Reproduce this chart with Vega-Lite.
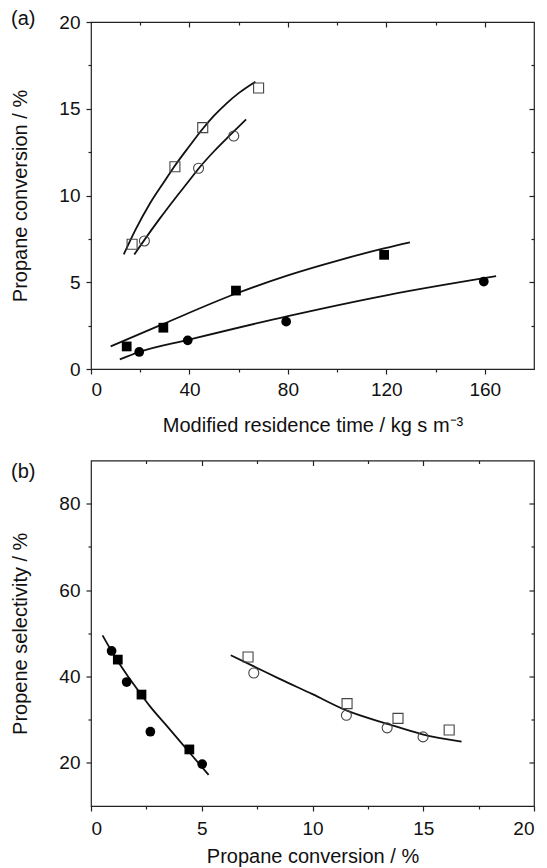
{
  "$schema": "https://vega.github.io/schema/vega-lite/v6.json",
  "background": "white",
  "padding": {"left": 10, "top": 8, "right": 0, "bottom": 0},
  "config": {
    "font": "Liberation Sans",
    "view": {"stroke": "#222", "strokeWidth": 1.2},
    "axis": {
      "grid": false, "domain": false, "tickColor": "#222", "tickWidth": 1.2,
      "labelFont": "Liberation Sans", "labelFontSize": 19, "labelColor": "#111", "labelPadding": 6,
      "titleFont": "Liberation Sans", "titleFontSize": 20, "titleFontWeight": "normal", "titleColor": "#111"
    },
    "title": {"font": "Liberation Sans", "fontSize": 20, "fontWeight": "normal", "color": "#111"}
  },
  "datasets": {
    "a_pts": [
      {"s": "open-sq", "shape": "square", "kind": "open", "x": 16.7, "y": 7.19},
      {"s": "open-sq", "shape": "square", "kind": "open", "x": 34.1, "y": 11.66},
      {"s": "open-sq", "shape": "square", "kind": "open", "x": 45.4, "y": 13.91},
      {"s": "open-sq", "shape": "square", "kind": "open", "x": 68.1, "y": 16.2},
      {"s": "open-ci", "shape": "circle", "kind": "open", "x": 21.7, "y": 7.38},
      {"s": "open-ci", "shape": "circle", "kind": "open", "x": 43.7, "y": 11.57},
      {"s": "open-ci", "shape": "circle", "kind": "open", "x": 58.0, "y": 13.43},
      {"s": "filled-sq", "shape": "square", "kind": "filled", "x": 14.5, "y": 1.3},
      {"s": "filled-sq", "shape": "square", "kind": "filled", "x": 29.4, "y": 2.38},
      {"s": "filled-sq", "shape": "square", "kind": "filled", "x": 58.9, "y": 4.52},
      {"s": "filled-sq", "shape": "square", "kind": "filled", "x": 119.1, "y": 6.58},
      {"s": "filled-ci", "shape": "circle", "kind": "filled", "x": 19.6, "y": 0.98},
      {"s": "filled-ci", "shape": "circle", "kind": "filled", "x": 39.3, "y": 1.65},
      {"s": "filled-ci", "shape": "circle", "kind": "filled", "x": 79.3, "y": 2.73},
      {"s": "filled-ci", "shape": "circle", "kind": "filled", "x": 159.6, "y": 5.04}
    ],
    "a_fit": [
      {"s": "open-sq", "kind": "open", "x": 13.3, "y": 6.6},
      {"s": "open-sq", "kind": "open", "x": 18, "y": 8.0},
      {"s": "open-sq", "kind": "open", "x": 24, "y": 9.55},
      {"s": "open-sq", "kind": "open", "x": 30, "y": 10.85},
      {"s": "open-sq", "kind": "open", "x": 34, "y": 11.7},
      {"s": "open-sq", "kind": "open", "x": 40, "y": 12.85},
      {"s": "open-sq", "kind": "open", "x": 45.4, "y": 13.85},
      {"s": "open-sq", "kind": "open", "x": 50, "y": 14.6},
      {"s": "open-sq", "kind": "open", "x": 55, "y": 15.3},
      {"s": "open-sq", "kind": "open", "x": 60, "y": 15.9},
      {"s": "open-sq", "kind": "open", "x": 66.8, "y": 16.56},
      {"s": "open-ci", "kind": "open", "x": 17.6, "y": 6.6},
      {"s": "open-ci", "kind": "open", "x": 22, "y": 7.5},
      {"s": "open-ci", "kind": "open", "x": 28, "y": 8.68},
      {"s": "open-ci", "kind": "open", "x": 34, "y": 9.8},
      {"s": "open-ci", "kind": "open", "x": 40, "y": 10.88},
      {"s": "open-ci", "kind": "open", "x": 44, "y": 11.6},
      {"s": "open-ci", "kind": "open", "x": 50, "y": 12.55},
      {"s": "open-ci", "kind": "open", "x": 57, "y": 13.55},
      {"s": "open-ci", "kind": "open", "x": 63, "y": 14.39},
      {"s": "filled-sq", "kind": "filled", "x": 8, "y": 1.3},
      {"s": "filled-sq", "kind": "filled", "x": 29.4, "y": 2.6},
      {"s": "filled-sq", "kind": "filled", "x": 59, "y": 4.35},
      {"s": "filled-sq", "kind": "filled", "x": 80, "y": 5.4},
      {"s": "filled-sq", "kind": "filled", "x": 101, "y": 6.28},
      {"s": "filled-sq", "kind": "filled", "x": 119, "y": 6.95},
      {"s": "filled-sq", "kind": "filled", "x": 129.6, "y": 7.3},
      {"s": "filled-ci", "kind": "filled", "x": 11.7, "y": 0.55},
      {"s": "filled-ci", "kind": "filled", "x": 20, "y": 1.0},
      {"s": "filled-ci", "kind": "filled", "x": 40, "y": 1.7},
      {"s": "filled-ci", "kind": "filled", "x": 80, "y": 3.05},
      {"s": "filled-ci", "kind": "filled", "x": 120, "y": 4.25},
      {"s": "filled-ci", "kind": "filled", "x": 164.6, "y": 5.35}
    ],
    "b_pts": [
      {"s": "filled-ci", "shape": "circle", "kind": "filled", "x": 0.93, "y": 45.9},
      {"s": "filled-ci", "shape": "circle", "kind": "filled", "x": 1.61, "y": 38.7},
      {"s": "filled-ci", "shape": "circle", "kind": "filled", "x": 2.68, "y": 27.2},
      {"s": "filled-ci", "shape": "circle", "kind": "filled", "x": 5.02, "y": 19.7},
      {"s": "filled-sq", "shape": "square", "kind": "filled", "x": 1.21, "y": 43.9},
      {"s": "filled-sq", "shape": "square", "kind": "filled", "x": 2.28, "y": 35.8},
      {"s": "filled-sq", "shape": "square", "kind": "filled", "x": 4.44, "y": 23.1},
      {"s": "open-sq", "shape": "square", "kind": "open", "x": 7.09, "y": 44.5},
      {"s": "open-sq", "shape": "square", "kind": "open", "x": 11.56, "y": 33.7},
      {"s": "open-sq", "shape": "square", "kind": "open", "x": 13.86, "y": 30.3},
      {"s": "open-sq", "shape": "square", "kind": "open", "x": 16.17, "y": 27.6},
      {"s": "open-ci", "shape": "circle", "kind": "open", "x": 7.35, "y": 40.8},
      {"s": "open-ci", "shape": "circle", "kind": "open", "x": 11.53, "y": 31.0},
      {"s": "open-ci", "shape": "circle", "kind": "open", "x": 13.37, "y": 28.1},
      {"s": "open-ci", "shape": "circle", "kind": "open", "x": 14.99, "y": 26.0}
    ],
    "b_fit": [
      {"s": "filled", "kind": "filled", "x": 0.52, "y": 49.5},
      {"s": "filled", "kind": "filled", "x": 1.16, "y": 43.9},
      {"s": "filled", "kind": "filled", "x": 1.7, "y": 39.8},
      {"s": "filled", "kind": "filled", "x": 2.25, "y": 35.9},
      {"s": "filled", "kind": "filled", "x": 2.63, "y": 33.3},
      {"s": "filled", "kind": "filled", "x": 3.5, "y": 28.1},
      {"s": "filled", "kind": "filled", "x": 4.36, "y": 22.9},
      {"s": "filled", "kind": "filled", "x": 5.31, "y": 17.2},
      {"s": "open", "kind": "open", "x": 6.31, "y": 44.9},
      {"s": "open", "kind": "open", "x": 7.33, "y": 42.4},
      {"s": "open", "kind": "open", "x": 8.49, "y": 39.5},
      {"s": "open", "kind": "open", "x": 10, "y": 35.9},
      {"s": "open", "kind": "open", "x": 11.5, "y": 32.2},
      {"s": "open", "kind": "open", "x": 13.46, "y": 28.9},
      {"s": "open", "kind": "open", "x": 14.96, "y": 26.6},
      {"s": "open", "kind": "open", "x": 16.73, "y": 24.9}
    ]
  },
  "spacing": 91.5,
  "bounds": "flush",
  "vconcat": [
    {
      "width": 443,
      "height": 347,
      "title": {"text": "(a)", "anchor": "start", "frame": "group", "orient": "top", "offset": 0, "dx": -80, "dy": 32, "baseline": "alphabetic"},
      "resolve": {"axis": {"x": "independent", "y": "independent"}},
      "layer": [
        {
          "data": {"name": "a_fit"},
          "transform": [{"filter": "datum.kind === 'open'"}],
          "mark": {"type": "line", "color": "#111", "strokeWidth": 1.8, "interpolate": "monotone"},
          "encoding": {
            "x": {"field": "x", "type": "quantitative", "scale": {"domain": [0, 180], "nice": false, "zero": false},
                  "axis": {"orient": "top", "values": [40, 80, 120, 160], "labels": false, "title": null, "tickSize": -5}},
            "y": {"field": "y", "type": "quantitative", "scale": {"domain": [0, 20], "nice": false, "zero": false},
                  "axis": {"orient": "right", "values": [5, 10, 15], "labels": false, "title": null, "tickSize": -5}},
            "detail": {"field": "s"}
          }
        },
        {
          "data": {"name": "a_fit"},
          "transform": [{"filter": "datum.kind === 'filled'"}],
          "mark": {"type": "line", "color": "#111", "strokeWidth": 1.8, "interpolate": "monotone"},
          "encoding": {
            "x": {"field": "x", "type": "quantitative", "scale": {"domain": [0, 180], "nice": false, "zero": false},
                  "axis": {"orient": "top", "values": [20, 60, 100, 140], "labels": false, "title": null, "tickSize": -3}},
            "y": {"field": "y", "type": "quantitative", "scale": {"domain": [0, 20], "nice": false, "zero": false},
                  "axis": {"orient": "right", "values": [2.5, 7.5, 12.5, 17.5], "labels": false, "title": null, "tickSize": -3}},
            "detail": {"field": "s"}
          }
        },
        {
          "data": {"name": "a_pts"},
          "transform": [{"filter": "datum.kind === 'open'"}],
          "mark": {"type": "point", "filled": false, "stroke": "#444", "strokeWidth": 1.1, "size": 100, "opacity": 1},
          "encoding": {
            "x": {"field": "x", "type": "quantitative", "scale": {"domain": [0, 180], "nice": false, "zero": false},
                  "axis": {"orient": "bottom", "values": [20, 60, 100, 140], "labels": false, "title": null, "tickSize": 3}},
            "y": {"field": "y", "type": "quantitative", "scale": {"domain": [0, 20], "nice": false, "zero": false},
                  "axis": {"orient": "left", "values": [2.5, 7.5, 12.5, 17.5], "labels": false, "title": null, "tickSize": 3}},
            "shape": {"field": "shape", "type": "nominal", "scale": {"domain": ["square", "circle"], "range": ["square", "circle"]}, "legend": null}
          }
        },
        {
          "data": {"name": "a_pts"},
          "transform": [{"filter": "datum.kind === 'filled'"}],
          "mark": {"type": "point", "filled": true, "fill": "#000", "size": 95, "opacity": 1},
          "encoding": {
            "x": {"field": "x", "type": "quantitative", "scale": {"domain": [0, 180], "nice": false, "zero": false},
                  "axis": {"orient": "bottom", "values": [0, 40, 80, 120, 160], "title": "Modified residence time / kg s m⁻³", "tickSize": 5, "titlePadding": 16}},
            "y": {"field": "y", "type": "quantitative", "scale": {"domain": [0, 20], "nice": false, "zero": false},
                  "axis": {"orient": "left", "values": [0, 5, 10, 15, 20], "title": "Propane conversion / %", "tickSize": 5, "titlePadding": 28}},
            "shape": {"field": "shape", "type": "nominal", "scale": {"domain": ["square", "circle"], "range": ["square", "circle"]}, "legend": null}
          }
        }
      ]
    },
    {
      "width": 443,
      "height": 345.5,
      "title": {"text": "(b)", "anchor": "start", "frame": "group", "orient": "top", "offset": 0, "dx": -80, "dy": 38, "baseline": "alphabetic"},
      "resolve": {"axis": {"x": "independent", "y": "independent"}},
      "layer": [
        {
          "data": {"name": "b_fit"},
          "transform": [{"filter": "datum.kind === 'open'"}],
          "mark": {"type": "line", "color": "#111", "strokeWidth": 1.8, "interpolate": "monotone"},
          "encoding": {
            "x": {"field": "x", "type": "quantitative", "scale": {"domain": [0, 20], "nice": false, "zero": false},
                  "axis": {"orient": "top", "values": [5, 10, 15], "labels": false, "title": null, "tickSize": -5}},
            "y": {"field": "y", "type": "quantitative", "scale": {"domain": [10, 90], "nice": false, "zero": false},
                  "axis": {"orient": "right", "values": [20, 40, 60, 80], "labels": false, "title": null, "tickSize": -5}},
            "detail": {"field": "s"}
          }
        },
        {
          "data": {"name": "b_fit"},
          "transform": [{"filter": "datum.kind === 'filled'"}],
          "mark": {"type": "line", "color": "#111", "strokeWidth": 1.8, "interpolate": "monotone"},
          "encoding": {
            "x": {"field": "x", "type": "quantitative", "scale": {"domain": [0, 20], "nice": false, "zero": false},
                  "axis": {"orient": "top", "values": [2.5, 7.5, 12.5, 17.5], "labels": false, "title": null, "tickSize": -3}},
            "y": {"field": "y", "type": "quantitative", "scale": {"domain": [10, 90], "nice": false, "zero": false},
                  "axis": {"orient": "right", "values": [30, 50, 70], "labels": false, "title": null, "tickSize": -3}},
            "detail": {"field": "s"}
          }
        },
        {
          "data": {"name": "b_pts"},
          "transform": [{"filter": "datum.kind === 'open'"}],
          "mark": {"type": "point", "filled": false, "stroke": "#444", "strokeWidth": 1.1, "size": 100, "opacity": 1},
          "encoding": {
            "x": {"field": "x", "type": "quantitative", "scale": {"domain": [0, 20], "nice": false, "zero": false},
                  "axis": {"orient": "bottom", "values": [2.5, 7.5, 12.5, 17.5], "labels": false, "title": null, "tickSize": 3}},
            "y": {"field": "y", "type": "quantitative", "scale": {"domain": [10, 90], "nice": false, "zero": false},
                  "axis": {"orient": "left", "values": [30, 50, 70], "labels": false, "title": null, "tickSize": 3}},
            "shape": {"field": "shape", "type": "nominal", "scale": {"domain": ["square", "circle"], "range": ["square", "circle"]}, "legend": null}
          }
        },
        {
          "data": {"name": "b_pts"},
          "transform": [{"filter": "datum.kind === 'filled'"}],
          "mark": {"type": "point", "filled": true, "fill": "#000", "size": 95, "opacity": 1},
          "encoding": {
            "x": {"field": "x", "type": "quantitative", "scale": {"domain": [0, 20], "nice": false, "zero": false},
                  "axis": {"orient": "bottom", "values": [0, 5, 10, 15, 20], "title": "Propane conversion / %", "tickSize": 5, "labelPadding": 8, "titlePadding": 8}},
            "y": {"field": "y", "type": "quantitative", "scale": {"domain": [10, 90], "nice": false, "zero": false},
                  "axis": {"orient": "left", "values": [20, 40, 60, 80], "title": "Propene selectivity / %", "tickSize": 5, "titlePadding": 28}},
            "shape": {"field": "shape", "type": "nominal", "scale": {"domain": ["square", "circle"], "range": ["square", "circle"]}, "legend": null}
          }
        }
      ]
    }
  ]
}
